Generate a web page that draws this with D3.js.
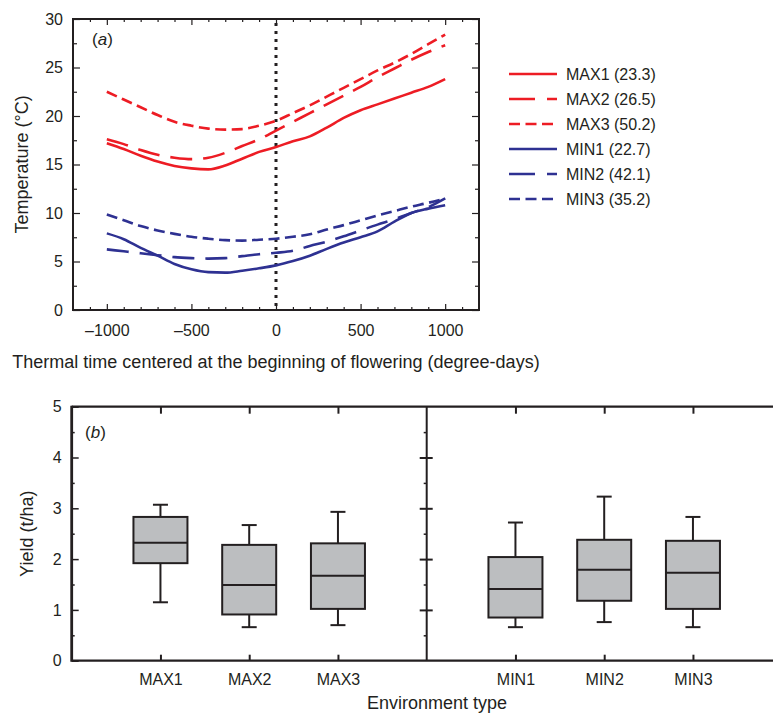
<!DOCTYPE html>
<html>
<head>
<meta charset="utf-8">
<script src="https://cdn.jsdelivr.net/npm/d3@7"></script>
<style>
  body { margin: 0; background: #fff; }
  svg text { font-family: "Liberation Sans", Arial, sans-serif; fill: #231f20; }
</style>
</head>
<body>
<svg id="fig" width="773" height="718"></svg>
<script>

// ---- panel (a) data ----
let thermal_time = [-1000,-900,-800,-700,-600,-500,-400,-300,-200,-100,0,100,200,300,400,500,600,700,800,900,1000];
let max1 = [17.2,16.6,15.9,15.3,14.85,14.6,14.5,14.9,15.6,16.3,16.8,17.4,17.9,18.8,19.8,20.6,21.2,21.8,22.4,23.0,23.8];
let max2 = [17.6,17.1,16.5,16.0,15.7,15.55,15.7,16.2,16.9,17.6,18.5,19.4,20.3,21.2,22.1,23.0,24.0,24.9,25.8,26.6,27.3];
let max3 = [22.5,21.7,20.9,20.1,19.4,19.0,18.7,18.6,18.65,19.0,19.5,20.3,21.1,22.0,22.9,23.8,24.7,25.5,26.4,27.4,28.4];
let min1 = [7.9,7.3,6.4,5.6,4.75,4.2,3.9,3.85,4.05,4.3,4.6,5.05,5.6,6.3,6.95,7.5,8.1,9.1,10.0,10.45,10.8];
let min2 = [6.25,6.05,5.85,5.65,5.45,5.35,5.3,5.35,5.55,5.75,5.9,6.1,6.6,7.05,7.6,8.2,8.8,9.35,10.0,10.6,11.5];
let min3 = [9.85,9.25,8.65,8.2,7.85,7.55,7.35,7.2,7.15,7.25,7.35,7.55,7.8,8.3,8.75,9.25,9.75,10.2,10.65,11.05,11.5];
let series_names = ["MAX1 (23.3)","MAX2 (26.5)","MAX3 (50.2)","MIN1 (22.7)","MIN2 (42.1)","MIN3 (35.2)"];
let temp_ticks = [0,5,10,15,20,25,30];
let time_ticks = [-1000,-500,0,500,1000];

// ---- panel (b) data ----
let env_types = ["MAX1","MAX2","MAX3","MIN1","MIN2","MIN3"];
let whisker_low  = [1.15,0.66,0.70,0.66,0.76,0.66];
let q1           = [1.92,0.91,1.02,0.85,1.18,1.02];
let median       = [2.32,1.49,1.67,1.41,1.79,1.73];
let q3           = [2.83,2.28,2.31,2.04,2.38,2.36];
let whisker_high = [3.07,2.67,2.93,2.72,3.23,2.83];
let yield_ticks = [0,1,2,3,4,5];

let svg = d3.select("#fig");
let red = "#ed1c24", blue = "#2e3192", ink = "#231f20";

function style_axis(g, width){
    g.select(".domain").remove();
    g.selectAll(".tick line").attr("stroke", ink).attr("stroke-width", width || 1.2);
    g.selectAll(".tick text").style("font-size", "16px").attr("fill", ink);
}

function dash_fmt(d){ return d3.format("d")(d).replace("−", "–").replace("-", "–"); }

// ================= panel (a) =================
function draw_panel_a(){
    let L = 73, R = 479, T = 19, B = 310;

    let x = d3.scaleLinear().domain([-1200,1200]).range([L,R]);
    let y = d3.scaleLinear().domain([0,30]).range([B,T]);

    let minor_x = d3.range(-1100, 1101, 100).filter(function(d){ return d % 500 !== 0; });
    let minor_y = d3.range(2.5, 30, 5);

    // bottom
    svg.append("g").attr("transform","translate(0,"+B+")")
        .call(d3.axisBottom(x).tickValues(time_ticks).tickSize(-6).tickPadding(15).tickFormat(dash_fmt))
        .call(style_axis);
    svg.append("g").attr("transform","translate(0,"+B+")")
        .call(d3.axisBottom(x).tickValues(minor_x).tickSize(-3).tickFormat(""))
        .call(style_axis);
    // top
    svg.append("g").attr("transform","translate(0,"+T+")")
        .call(d3.axisTop(x).tickValues(time_ticks).tickSize(-6).tickFormat(""))
        .call(style_axis);
    svg.append("g").attr("transform","translate(0,"+T+")")
        .call(d3.axisTop(x).tickValues(minor_x).tickSize(-3).tickFormat(""))
        .call(style_axis);
    // left
    svg.append("g").attr("transform","translate("+L+",0)")
        .call(d3.axisLeft(y).tickValues(temp_ticks).tickSize(-7).tickPadding(10))
        .call(style_axis);
    svg.append("g").attr("transform","translate("+L+",0)")
        .call(d3.axisLeft(y).tickValues(minor_y).tickSize(-4).tickFormat(""))
        .call(style_axis);
    // right
    svg.append("g").attr("transform","translate("+R+",0)")
        .call(d3.axisRight(y).tickValues(temp_ticks).tickSize(-7).tickFormat(""))
        .call(style_axis);
    svg.append("g").attr("transform","translate("+R+",0)")
        .call(d3.axisRight(y).tickValues(minor_y).tickSize(-4).tickFormat(""))
        .call(style_axis);

    // frame
    svg.append("rect")
        .attr("x", L).attr("y", T).attr("width", R-L).attr("height", B-T)
        .attr("fill","none").attr("stroke", ink).attr("stroke-width", 2);

    // dotted line at flowering
    svg.append("line")
        .attr("x1", x(0)).attr("x2", x(0)).attr("y1", T+4).attr("y2", B)
        .attr("stroke", ink).attr("stroke-width", 3)
        .attr("stroke-dasharray", "3,5");

    let series = [
        {name: series_names[0], values: max1, color: red,  dash: null},
        {name: series_names[1], values: max2, color: red,  dash: "22,11"},
        {name: series_names[2], values: max3, color: red,  dash: "11,5.5"},
        {name: series_names[3], values: min1, color: blue, dash: null},
        {name: series_names[4], values: min2, color: blue, dash: "22,11"},
        {name: series_names[5], values: min3, color: blue, dash: "11,5.5"}
    ];

    let line = d3.line()
        .x(function(d,i){ return x(thermal_time[i]); })
        .y(function(d){ return y(d); })
        .curve(d3.curveMonotoneX);

    svg.append("g").selectAll("path")
        .data(series).enter()
        .append("path")
            .attr("d", function(d){ return line(d.values); })
            .attr("fill","none")
            .attr("stroke", function(d){ return d.color; })
            .attr("stroke-width", 2.6)
            .attr("stroke-dasharray", function(d){ return d.dash; });

    // legend
    let leg = svg.append("g").selectAll("g")
        .data(series).enter()
        .append("g")
            .attr("transform", function(d,i){ return "translate(509," + (74 + i*25) + ")"; });
    leg.append("line")
        .attr("x1",0).attr("x2",48).attr("y1",0).attr("y2",0)
        .attr("stroke", function(d){ return d.color; })
        .attr("stroke-width", 2.6)
        .attr("stroke-dasharray", function(d){ return d.dash ? (d.dash === "22,11" ? "26,12" : "11,5.5") : null; });
    leg.append("text")
        .attr("x", 57).attr("y", 0).attr("dy", "0.35em")
        .style("font-size","16px")
        .text(function(d){ return d.name; });

    // labels
    svg.append("text")
        .attr("x", 92).attr("y", 45).style("font-size","17px")
        .html('(<tspan font-style="italic">a</tspan>)');
    svg.append("text")
        .attr("transform","translate(28,"+((T+B)/2)+") rotate(-90)")
        .attr("text-anchor","middle").style("font-size","18px")
        .text("Temperature (°C)");
    svg.append("text")
        .attr("x", (L+R)/2).attr("y", 368)
        .attr("text-anchor","middle").style("font-size","18px")
        .text("Thermal time centered at the beginning of flowering (degree-days)");
}

// ================= panel (b) =================
function draw_panel_b(){
    let L = 71.7, T = 406.7, B = 660.7;
    let x = d3.scaleLinear().domain([0,8]).range([L, L + 8*88.75]);
    let y = d3.scaleLinear().domain([0,5]).range([B,T]);
    let pos = function(i){ return x(i < 3 ? i + 1 : i + 2); };

    let boxes = env_types.map(function(name,i){
        return {name: name, lo: whisker_low[i], q1: q1[i], med: median[i], q3: q3[i], hi: whisker_high[i], cx: pos(i)};
    });
    let minor_y = d3.range(0.5, 5, 1);

    // bottom ticks & category labels
    svg.append("g").attr("transform","translate(0,"+B+")")
        .call(d3.axisBottom(x).tickValues([1,2,3,5,6,7]).tickSize(-6).tickPadding(13)
              .tickFormat(function(d){ return env_types[d < 4 ? d - 1 : d - 2]; }))
        .call(style_axis, 2);
    // top ticks
    svg.append("g").attr("transform","translate(0,"+T+")")
        .call(d3.axisTop(x).tickValues([1,2,3,5,6,7]).tickSize(-7).tickFormat(""))
        .call(style_axis, 2);
    // left
    svg.append("g").attr("transform","translate("+L+",0)")
        .call(d3.axisLeft(y).tickValues(yield_ticks).tickSize(-7).tickPadding(10).tickFormat(d3.format("d")))
        .call(style_axis, 1.5);
    svg.append("g").attr("transform","translate("+L+",0)")
        .call(d3.axisLeft(y).tickValues(minor_y).tickSize(-3).tickFormat(""))
        .call(style_axis, 1.5);
    // middle divider ticks
    let xm = x(4);
    svg.append("g").attr("transform","translate("+xm+",0)")
        .call(d3.axisLeft(y).tickValues(yield_ticks.slice(1,5)).tickSize(7).tickFormat(""))
        .call(style_axis, 2);
    svg.append("g").attr("transform","translate("+xm+",0)")
        .call(d3.axisRight(y).tickValues(yield_ticks.slice(1,5)).tickSize(6).tickFormat(""))
        .call(style_axis, 2);
    svg.append("g").attr("transform","translate("+xm+",0)")
        .call(d3.axisLeft(y).tickValues(minor_y).tickSize(3).tickFormat(""))
        .call(style_axis, 1.5);

    // frame (right side runs past the picture edge)
    svg.append("line").attr("x1",L).attr("x2",773).attr("y1",T).attr("y2",T)
        .attr("stroke",ink).attr("stroke-width",2.2);
    svg.append("line").attr("x1",L).attr("x2",773).attr("y1",B).attr("y2",B)
        .attr("stroke",ink).attr("stroke-width",2.2);
    svg.append("line").attr("x1",L).attr("x2",L).attr("y1",T-1).attr("y2",B+1)
        .attr("stroke",ink).attr("stroke-width",2.8);
    svg.append("line").attr("x1",xm).attr("x2",xm).attr("y1",T).attr("y2",B)
        .attr("stroke",ink).attr("stroke-width",2);

    let bw = 54, cw = 15;
    let g = svg.append("g").selectAll("g")
        .data(boxes).enter()
        .append("g");

    g.append("line")
        .attr("x1", function(d){ return d.cx; }).attr("x2", function(d){ return d.cx; })
        .attr("y1", function(d){ return y(d.lo); }).attr("y2", function(d){ return y(d.hi); })
        .attr("stroke", ink).attr("stroke-width", 2);
    g.append("line")
        .attr("x1", function(d){ return d.cx - cw/2; }).attr("x2", function(d){ return d.cx + cw/2; })
        .attr("y1", function(d){ return y(d.hi); }).attr("y2", function(d){ return y(d.hi); })
        .attr("stroke", ink).attr("stroke-width", 2);
    g.append("line")
        .attr("x1", function(d){ return d.cx - cw/2; }).attr("x2", function(d){ return d.cx + cw/2; })
        .attr("y1", function(d){ return y(d.lo); }).attr("y2", function(d){ return y(d.lo); })
        .attr("stroke", ink).attr("stroke-width", 2);
    g.append("rect")
        .attr("x", function(d){ return d.cx - bw/2; })
        .attr("y", function(d){ return y(d.q3); })
        .attr("width", bw)
        .attr("height", function(d){ return y(d.q1) - y(d.q3); })
        .attr("fill", "#bcbec0").attr("stroke", ink).attr("stroke-width", 2);
    g.append("line")
        .attr("x1", function(d){ return d.cx - bw/2; }).attr("x2", function(d){ return d.cx + bw/2; })
        .attr("y1", function(d){ return y(d.med); }).attr("y2", function(d){ return y(d.med); })
        .attr("stroke", ink).attr("stroke-width", 2);

    // labels
    svg.append("text")
        .attr("x", 85).attr("y", 438).style("font-size","17px")
        .html('(<tspan font-style="italic">b</tspan>)');
    svg.append("text")
        .attr("transform","translate(33,"+((T+B)/2)+") rotate(-90)")
        .attr("text-anchor","middle").style("font-size","18px")
        .text("Yield (t/ha)");
    svg.append("text")
        .attr("x", 437).attr("y", 709)
        .attr("text-anchor","middle").style("font-size","18px")
        .text("Environment type");
}

draw_panel_a();
draw_panel_b();
</script>
</body>
</html>
